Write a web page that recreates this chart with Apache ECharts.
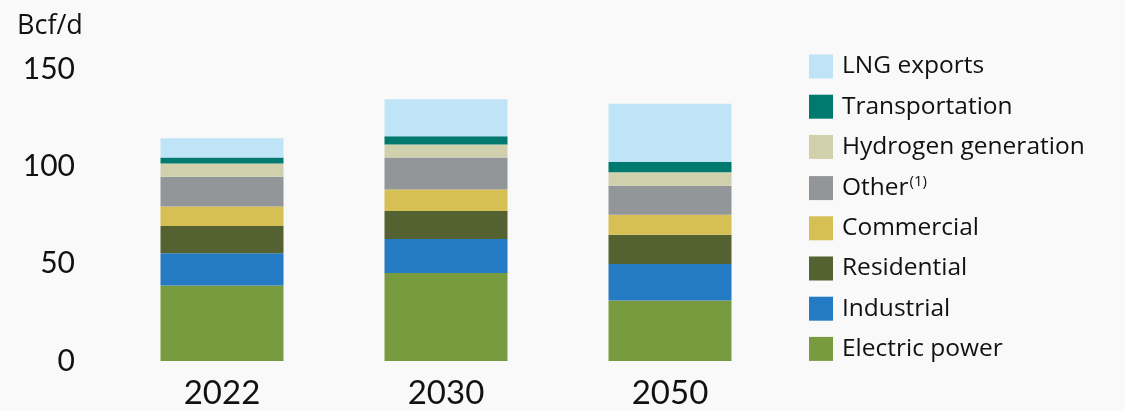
<!DOCTYPE html>
<html>
<head>
<meta charset="utf-8">
<script src="https://cdn.jsdelivr.net/npm/echarts@6/dist/echarts.min.js"></script>
<style>
  html, body { margin: 0; padding: 0; background: #f9f9f9; }
  #chart { width: 1125px; height: 411px; }
</style>
</head>
<body>
<div id="chart"></div>
<script>
// Natural gas demand by sector, Bcf/d
const years = ['2022', '2030', '2050'];
const electricPower = [38.8, 45.2, 31.1];
const industrial = [16.5, 17.5, 18.7];
const residential = [14.1, 14.3, 15.1];
const commercial = [10.0, 11.1, 10.2];
const other = [15.3, 16.5, 14.9];
const hydrogenGeneration = [6.7, 6.6, 6.9];
const transportation = [3.2, 4.3, 5.5];
const lngExports = [9.8, 19.0, 29.7];
const yTicks = [0, 50, 100, 150];

const FONT = 'Lato';
const LEGEND_FONT = 'Open Sans';

const seriesDefs = [
  { name: 'Electric power', data: electricPower, color: '#799b3f' },
  { name: 'Industrial', data: industrial, color: '#247bc4' },
  { name: 'Residential', data: residential, color: '#546130' },
  { name: 'Commercial', data: commercial, color: '#d6c054' },
  { name: 'Other', data: other, color: '#939699' },
  { name: 'Hydrogen generation', data: hydrogenGeneration, color: '#d0d0ad' },
  { name: 'Transportation', data: transportation, color: '#007a6e' },
  { name: 'LNG exports', data: lngExports, color: '#bfe3f7' }
];

const chart = echarts.init(document.getElementById('chart'));
chart.setOption({
  backgroundColor: '#f9f9f9',
  animation: false,
  grid: { left: 110, width: 672, top: 69, bottom: 50, containLabel: false },
  legend: {
    orient: 'vertical',
    left: 804,
    top: 49,
    itemWidth: 24,
    itemHeight: 24,
    itemGap: 15.2,
    icon: 'rect',
    data: seriesDefs.map(s => s.name).reverse(),
    formatter: name => name === 'Other' ? 'Other{sup|(1)}' : name,
    textStyle: {
      fontFamily: LEGEND_FONT,
      fontSize: 24.5,
      color: '#111',
      padding: [0, 0, 0, 4],
      rich: {
        sup: { fontFamily: LEGEND_FONT, fontSize: 15, color: '#111', verticalAlign: 'top', padding: [0, 0, 12, 1] }
      }
    }
  },
  xAxis: {
    type: 'category',
    data: years,
    axisLine: { show: false },
    axisTick: { show: false },
    axisLabel: { fontFamily: FONT, fontSize: 33, color: '#111', margin: 16 }
  },
  yAxis: {
    type: 'value',
    min: yTicks[0],
    max: yTicks[yTicks.length - 1],
    interval: 50,
    name: 'Bcf/d',
    nameLocation: 'end',
    nameGap: 0,
    nameTextStyle: { fontFamily: LEGEND_FONT, fontSize: 27, color: '#111', align: 'left', verticalAlign: 'bottom', padding: [0, 0, 29, -93] },
    axisLine: { show: false },
    axisTick: { show: false },
    splitLine: { show: false },
    axisLabel: { fontFamily: FONT, fontSize: 30, color: '#111', margin: 35 }
  },
  series: seriesDefs.map(s => ({
    name: s.name,
    type: 'bar',
    stack: 'demand',
    barWidth: 123,
    data: s.data,
    itemStyle: { color: s.color }
  }))
});
</script>
</body>
</html>
